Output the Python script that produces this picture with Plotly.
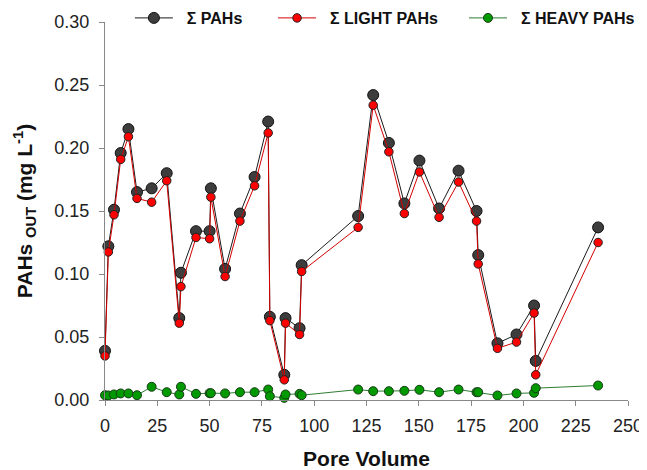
import plotly.graph_objects as go

pore_volume = [0, 1.6, 4.3, 7.5, 11.2, 15.3, 22.3, 29.5, 35.5, 36.3, 43.5, 50.0, 50.6,
               57.4, 64.5, 71.5, 78.0, 78.8, 85.7, 86.3, 93.0, 94.0, 121.0, 128.2,
               135.7, 143.1, 150.3, 159.7, 169.0, 177.6, 178.4, 187.6, 196.7, 205.1,
               205.9, 235.7]

sum_pahs = [0.039, 0.122, 0.151, 0.196, 0.215, 0.165, 0.168, 0.180, 0.065, 0.101,
            0.134, 0.134, 0.168, 0.104, 0.148, 0.177, 0.221, 0.066, 0.020, 0.065,
            0.057, 0.107, 0.146, 0.242, 0.204, 0.156, 0.190, 0.152, 0.182, 0.150,
            0.115, 0.045, 0.052, 0.075, 0.031, 0.137]

light_pahs = [0.035, 0.1175, 0.147, 0.191, 0.209, 0.160, 0.157, 0.174, 0.061, 0.090,
              0.129, 0.128, 0.161, 0.098, 0.142, 0.170, 0.212, 0.063, 0.016, 0.061,
              0.052, 0.102, 0.137, 0.234, 0.197, 0.148, 0.181, 0.145, 0.173, 0.142,
              0.108, 0.041, 0.046, 0.069, 0.020, 0.125]

heavy_pahs = [0.0038, 0.0036, 0.0044, 0.0052, 0.0052, 0.0038, 0.0105, 0.0062, 0.0044,
              0.0105, 0.0049, 0.0054, 0.0054, 0.0052, 0.0062, 0.0062, 0.0083, 0.0030,
              0.0017, 0.0044, 0.0049, 0.0038, 0.0083, 0.0070, 0.0070, 0.0073, 0.0081,
              0.0062, 0.0083, 0.0062, 0.0062, 0.0036, 0.0052, 0.0057, 0.0094, 0.0115]

series_names = ["Σ PAHs", "Σ LIGHT PAHs", "Σ HEAVY PAHs"]
x_ticks = [0, 25, 50, 75, 100, 125, 150, 175, 200, 225, 250]
y_ticks = [0.00, 0.05, 0.10, 0.15, 0.20, 0.25, 0.30]

FONT = "Arial, 'Liberation Sans', sans-serif"
PAD = "\u00a0\u00a0"

fig = go.Figure()
fig.add_trace(go.Scatter(
    x=pore_volume, y=sum_pahs, name=PAD + "<b>" + series_names[0] + "</b>",
    mode="lines+markers", legend="legend",
    line=dict(color="#1a1a1a", width=1),
    marker=dict(size=11, color="#3d3d3d", line=dict(color="#111111", width=1)),
    cliponaxis=False))
fig.add_trace(go.Scatter(
    x=pore_volume, y=light_pahs, name=PAD + "<b>" + series_names[1] + "</b>",
    mode="lines+markers", legend="legend2",
    line=dict(color="#d40000", width=1),
    marker=dict(size=8.5, color="#ff0000", line=dict(color="#222222", width=1)),
    cliponaxis=False))
fig.add_trace(go.Scatter(
    x=pore_volume, y=heavy_pahs, name=PAD + "<b>" + series_names[2] + "</b>",
    mode="lines+markers", legend="legend3",
    line=dict(color="#2e7d32", width=1),
    marker=dict(size=9, color="#009a00", line=dict(color="#1a3a1a", width=1)),
    cliponaxis=False))

axis_common = dict(
    showline=True, linecolor="#888888", linewidth=1,
    ticks="outside", ticklen=5, tickcolor="#888888", tickwidth=1,
    showgrid=False, zeroline=False, mirror=False, automargin=False,
    tickfont=dict(family=FONT, size=18, color="#222222"),
)

fig.update_xaxes(
    range=[0, 250], tickvals=x_ticks, ticktext=[str(v) for v in x_ticks],
    ticklabelstandoff=4,
    title=dict(text="<b>Pore Volume</b>", font=dict(family=FONT, size=21, color="#111111"),
               standoff=17),
    **axis_common)
fig.update_yaxes(
    range=[0, 0.30], tickvals=y_ticks, ticktext=[f"{v:.2f}" for v in y_ticks],
    ticklabelstandoff=6,
    title=dict(text="<b>PAHs <sub>OUT</sub> (mg L<sup>-1</sup>)</b>",
               font=dict(family=FONT, size=21, color="#111111"), standoff=16),
    **axis_common)

legend_common = dict(orientation="h", xanchor="left", yref="container",
                     y=1 - 10 / 462, yanchor="middle", itemwidth=38,
                     font=dict(family=FONT, size=16, color="#111111"),
                     bgcolor="rgba(0,0,0,0)")

# page body has an 8px default margin, so the figure is sized to the visible area
fig.update_layout(
    width=639, height=462,
    margin=dict(l=97, r=19, t=14, b=69.5, autoexpand=False),
    paper_bgcolor="white", plot_bgcolor="white",
    showlegend=True,
    legend=dict(x=0.0476, **legend_common),
    legend2=dict(x=0.3213, **legend_common),
    legend3=dict(x=0.6864, **legend_common),
)

fig.write_html("out.html")
